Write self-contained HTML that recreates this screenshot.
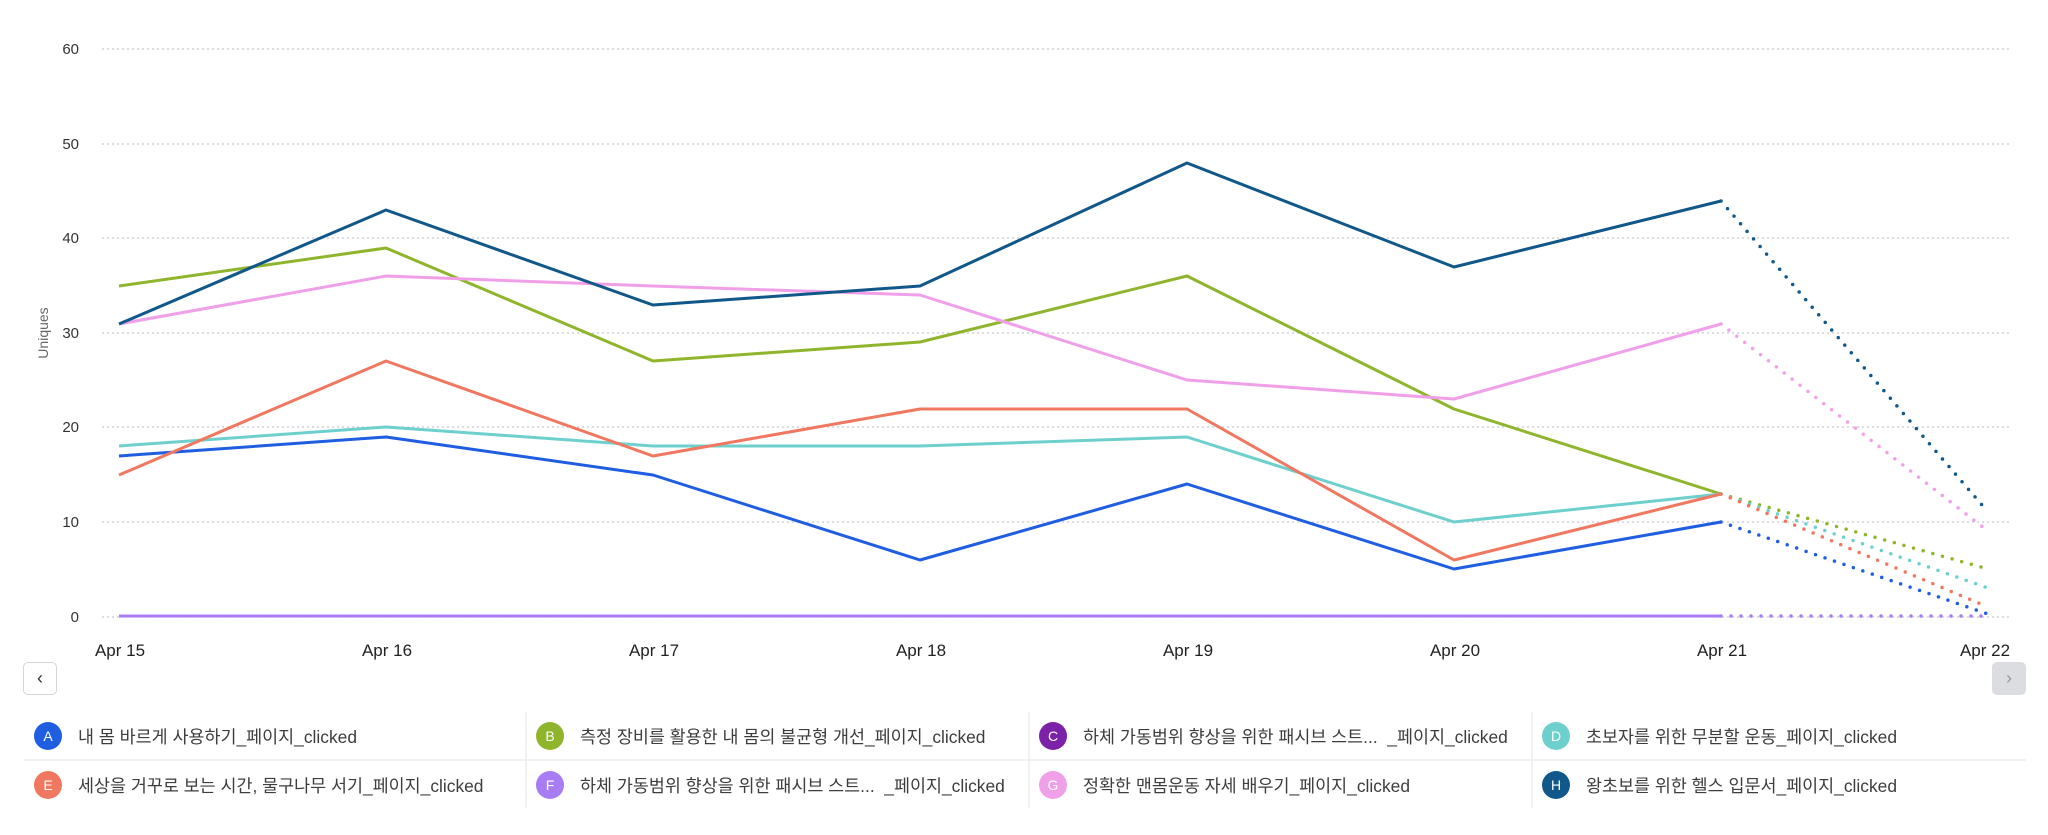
<!DOCTYPE html>
<html><head><meta charset="utf-8"><style>
body{margin:0;width:2048px;height:835px;background:#fff;overflow:hidden;font-family:"Liberation Sans","Noto Sans CJK KR",sans-serif;}
.lg{position:absolute;height:48px;display:flex;align-items:center;font-size:17.4px;color:#3d3d3d;}
.c{width:28px;height:28px;border-radius:50%;color:#fff;font-size:14px;display:flex;align-items:center;justify-content:center;margin-right:16px;margin-left:10px;flex:none}
.btn{position:absolute;width:34px;height:33px;border:1px solid #d5d5d5;border-radius:5px;box-sizing:border-box;display:flex;align-items:center;justify-content:center;font-size:18px;color:#333}
</style></head><body>
<svg width="2048" height="835" style="position:absolute;left:0;top:0" font-family="Liberation Sans, sans-serif">
<g stroke="#c8c8d0" stroke-width="1.2" stroke-dasharray="2,3">
<line x1="102" x2="2012" y1="49" y2="49"/><line x1="102" x2="2012" y1="144" y2="144"/><line x1="102" x2="2012" y1="238" y2="238"/><line x1="102" x2="2012" y1="333" y2="333"/><line x1="102" x2="2012" y1="427" y2="427"/><line x1="102" x2="2012" y1="522" y2="522"/><line x1="102" x2="2012" y1="617" y2="617"/>
</g>
<g font-size="15" fill="#333" text-anchor="end">
<text x="79" y="54">60</text><text x="79" y="149">50</text><text x="79" y="243">40</text><text x="79" y="338">30</text><text x="79" y="432">20</text><text x="79" y="527">10</text><text x="79" y="622">0</text>
</g>
<text transform="translate(48,333) rotate(-90)" font-size="14" fill="#666" text-anchor="middle">Uniques</text>
<g font-size="17" fill="#222" text-anchor="middle">
<text x="120" y="656">Apr 15</text><text x="387" y="656">Apr 16</text><text x="654" y="656">Apr 17</text><text x="921" y="656">Apr 18</text><text x="1188" y="656">Apr 19</text><text x="1455" y="656">Apr 20</text><text x="1722" y="656">Apr 21</text><text x="1985" y="656">Apr 22</text>
</g>
<g fill="none" stroke-width="3" stroke-linejoin="round">
<polyline stroke="#7b22a8" points="119,616 1721,616"/>
<polyline stroke="#a77cf5" points="119,616 1721,616"/>
<polyline stroke="#1f5ee0" points="119,456 386,437 653,475 920,560 1187,484 1454,569 1721,522"/>
<polyline stroke="#8fb52d" points="119,286 386,248 653,361 920,342 1187,276 1454,409 1721,494"/>
<polyline stroke="#6dd0cc" points="119,446 386,427 653,446 920,446 1187,437 1454,522 1721,494"/>
<polyline stroke="#f07860" points="119,475 386,361 653,456 920,409 1187,409 1454,560 1721,494"/>
<polyline stroke="#f0a0e8" points="119,324 386,276 653,286 920,295 1187,380 1454,399 1721,324"/>
<polyline stroke="#10578a" points="119,324 386,210 653,305 920,286 1187,163 1454,267 1721,201"/>
</g>
<g fill="none" stroke-width="3.5" stroke-linecap="round" stroke-dasharray="0,10">
<line stroke="#a77cf5" x1="1721" y1="616" x2="1988" y2="616"/>
<line stroke="#1f5ee0" x1="1721" y1="522" x2="1988" y2="614"/>
<line stroke="#8fb52d" x1="1721" y1="494" x2="1988" y2="569"/>
<line stroke="#6dd0cc" x1="1721" y1="494" x2="1988" y2="588"/>
<line stroke="#f07860" x1="1721" y1="494" x2="1988" y2="607"/>
<line stroke="#f0a0e8" x1="1721" y1="324" x2="1988" y2="531"/>
<line stroke="#10578a" x1="1721" y1="201" x2="1988" y2="512"/>
</g>
<g stroke="#ececec" stroke-width="1.5">
<line x1="24" x2="2026" y1="760" y2="760"/>
<line x1="526" x2="526" y1="712" y2="808"/><line x1="1029" x2="1029" y1="712" y2="808"/><line x1="1532" x2="1532" y1="712" y2="808"/>
</g>
</svg>
<div class="btn" style="left:23px;top:662px">&#8249;</div>
<div class="btn" style="left:1992px;top:662px;background:#dcdde0;border-color:#dcdde0;color:#999">&#8250;</div>
<div class="lg" style="left:24px;top:712px"><span class="c" style="background:#1f5ee0">A</span>내 몸 바르게 사용하기_페이지_clicked</div>
<div class="lg" style="left:526px;top:712px"><span class="c" style="background:#8fb52d">B</span>측정 장비를 활용한 내 몸의 불균형 개선_페이지_clicked</div>
<div class="lg" style="left:1029px;top:712px"><span class="c" style="background:#7b22a8">C</span>하체 가동범위 향상을 위한 패시브 스트...&nbsp; _페이지_clicked</div>
<div class="lg" style="left:1532px;top:712px"><span class="c" style="background:#6dd0cc">D</span>초보자를 위한 무분할 운동_페이지_clicked</div>
<div class="lg" style="left:24px;top:761px"><span class="c" style="background:#f07860">E</span>세상을 거꾸로 보는 시간, 물구나무 서기_페이지_clicked</div>
<div class="lg" style="left:526px;top:761px"><span class="c" style="background:#a77cf5">F</span>하체 가동범위 향상을 위한 패시브 스트...&nbsp; _페이지_clicked</div>
<div class="lg" style="left:1029px;top:761px"><span class="c" style="background:#f0a0e8">G</span>정확한 맨몸운동 자세 배우기_페이지_clicked</div>
<div class="lg" style="left:1532px;top:761px"><span class="c" style="background:#10578a">H</span>왕초보를 위한 헬스 입문서_페이지_clicked</div>
</body></html>
